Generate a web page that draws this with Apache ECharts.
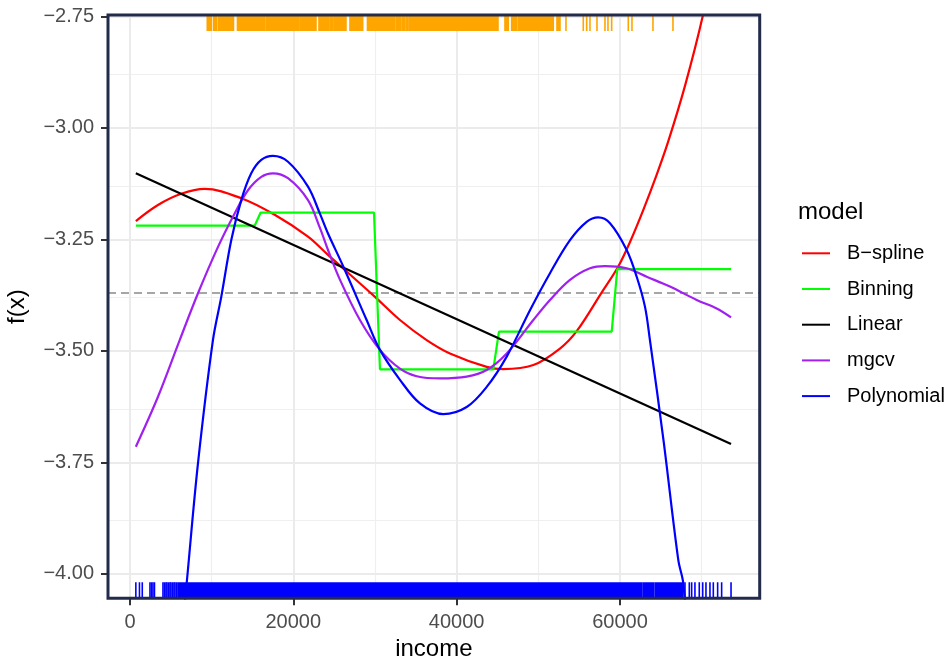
<!DOCTYPE html>
<html><head><meta charset="utf-8">
<script src="https://cdn.jsdelivr.net/npm/echarts@6/dist/echarts.min.js"></script>
<style>html,body{margin:0;padding:0;background:#fff}#c{width:951px;height:659px}</style>
</head><body><div id="c"></div>
<script>
// ---------- data ----------
const seriesNames = ['B\u2212spline', 'Binning', 'Linear', 'mgcv', 'Polynomial'];
const seriesColors = ['#ff0000', '#00ff00', '#000000', '#a020f0', '#0000ff'];

const bsplineX = [720, 3430, 6280, 9150, 13630, 17720, 21800, 24250, 30000, 33060, 36330, 39180, 43680, 45710, 49390, 52650, 54700, 57770, 59790, 61230, 62860, 64500, 65920, 67960, 70130, 72000, 73600];
const bsplineY = [-3.209, -3.173, -3.148, -3.137, -3.158, -3.195, -3.244, -3.285, -3.379, -3.431, -3.476, -3.506, -3.536, -3.541, -3.532, -3.495, -3.456, -3.369, -3.311, -3.256, -3.184, -3.105, -3.030, -2.906, -2.750, -2.58, -2.43];

const binningX = [720, 15270, 16000, 29880, 30610, 44490, 45180, 58990, 59670, 73600];
const binningY = [-3.2195, -3.2195, -3.190, -3.190, -3.5415, -3.5415, -3.457, -3.457, -3.317, -3.317];

const linearX = [720, 73600];
const linearY = [-3.102, -3.709];

const mgcvX = [720, 3430, 6090, 8330, 10780, 12820, 14450, 16080, 17510, 19350, 21800, 23270, 24250, 25720, 28160, 30610, 33060, 35110, 37960, 41230, 43680, 46130, 49390, 51430, 53880, 56330, 58160, 60820, 63270, 66120, 69390, 71840, 73600];
const mgcvY = [-3.715, -3.603, -3.476, -3.371, -3.267, -3.192, -3.140, -3.110, -3.102, -3.113, -3.162, -3.225, -3.274, -3.341, -3.431, -3.498, -3.540, -3.557, -3.562, -3.558, -3.543, -3.506, -3.431, -3.386, -3.341, -3.315, -3.310, -3.315, -3.334, -3.356, -3.386, -3.405, -3.425];

const polyX = [6120, 6980, 8330, 10160, 11180, 12400, 13630, 14850, 16080, 17510, 19350, 21800, 23270, 24250, 26120, 28980, 30610, 33060, 35510, 38360, 41230, 43680, 46130, 48980, 51430, 53880, 55920, 57340, 58780, 60820, 62050, 63060, 63670, 65340, 67140, 67750, 68570];
const polyY = [-4.18, -4.014, -3.752, -3.476, -3.379, -3.252, -3.162, -3.102, -3.072, -3.063, -3.076, -3.132, -3.193, -3.237, -3.311, -3.431, -3.498, -3.565, -3.618, -3.642, -3.626, -3.581, -3.513, -3.409, -3.326, -3.252, -3.211, -3.201, -3.214, -3.274, -3.334, -3.401, -3.476, -3.702, -3.969, -4.021, -4.20];

const refLineY = -3.369;

// rug (income values): single ticks and solid dense bands
const blueRugTicks = [720, 1163, 1506, 2449, 2633, 2816, 3000, 4041, 4225, 4408, 4531, 4714, 4898, 5020, 5204, 5388, 5510, 5694, 67960, 68490, 68780, 69180, 69710, 70130, 70530, 71020, 71430, 71960, 72450, 73600];
const blueRugBands = [[5880, 62700], [62900, 64100], [64300, 67700]];
const orangeRugTicks = [53389, 55507, 55923, 56327, 57184, 58164, 58531, 58984, 61017, 61470, 64040, 66489];
const orangeRugBands = [[9466, 9980], [10262, 10592], [10812, 12674], [13163, 16531], [16714, 18282], [18453, 20657], [20817, 22776], [23143, 24331], [24490, 24821], [24980, 26449], [26939, 28494], [29082, 31286], [31433, 32449], [32633, 33184], [33368, 33674], [33858, 34004], [34164, 36037], [36208, 38486], [38657, 41548], [41719, 43384], [43556, 45062], [45919, 46323], [46740, 47351], [47547, 51833], [52286, 52653]];

// axes
const xTicks = [0, 20000, 40000, 60000];
const xMinor = [10000, 30000, 50000, 70000];
const yTicks = [-4, -3.75, -3.5, -3.25, -3, -2.75];
const yMinor = [-3.875, -3.625, -3.375, -3.125, -2.875];
const X_MIN = -2690, X_MAX = 77110;
const Y_MIN = -4.055, Y_MAX = -2.747;

// ---------- chart ----------
const FONT = '"Liberation Sans", Arial, sans-serif';
const chart = echarts.init(document.getElementById('c'), null, {renderer: 'canvas'});
const zip = (xs, ys) => xs.map((x, i) => [x, ys[i]]);
const lineData = [zip(bsplineX, bsplineY), zip(binningX, binningY), zip(linearX, linearY), zip(mgcvX, mgcvY), zip(polyX, polyY)];
const smoothFlags = [0.35, false, false, 0.35, 0.35];

const RUG_LEN = 16, RUG_W = 1.6;
function rugSeries(ticks, bands, color, side) {
  const data = ticks.map(t => [t, t]).concat(bands);
  return {
    type: 'custom', silent: true, z: 2, clip: true, animation: false,
    data: data,
    encode: {x: [0, 1], y: 1},
    renderItem: function (params, api) {
      const cs = params.coordSys;
      const a = api.coord([api.value(0), Y_MIN])[0];
      const b = api.coord([api.value(1), Y_MIN])[0];
      const y = side === 'bottom' ? cs.y + cs.height - RUG_LEN : cs.y;
      return {type: 'rect', shape: {x: a - RUG_W / 2, y: y, width: Math.max(b - a, 0) + RUG_W, height: RUG_LEN}, style: {fill: color}};
    }
  };
}

const noLabel = {show: false};
const series = [
  {
    type: 'line', name: '_gridMinor', data: [], z: 0, silent: true, animation: false,
    markLine: {z: 0, silent: true, symbol: ['none', 'none'], label: noLabel, animation: false,
      lineStyle: {color: '#efefef', width: 1.2, type: 'solid'},
      data: xMinor.map(v => ({xAxis: v})).concat(yMinor.map(v => ({yAxis: v})))}
  },
  {
    type: 'line', name: '_gridMajor', data: [], z: 0, silent: true, animation: false,
    markLine: {z: 0, silent: true, symbol: ['none', 'none'], label: noLabel, animation: false,
      lineStyle: {color: '#ebebeb', width: 2, type: 'solid'},
      data: xTicks.map(v => ({xAxis: v})).concat(yTicks.map(v => ({yAxis: v})))}
  },
  {
    type: 'line', name: '_ref', data: [], z: 1, silent: true, animation: false,
    markLine: {z: 1, silent: true, symbol: ['none', 'none'], label: noLabel, animation: false,
      lineStyle: {color: '#a6a6a6', width: 2, type: [8, 5]},
      data: [{yAxis: refLineY}]}
  },
  rugSeries(orangeRugTicks, orangeRugBands, '#ffa500', 'top'),
  rugSeries(blueRugTicks, blueRugBands, '#0000ff', 'bottom')
];
seriesNames.forEach((n, i) => {
  series.push({
    type: 'line', name: n, data: lineData[i], symbol: 'none', showSymbol: false,
    smooth: smoothFlags[i], clip: true, z: 3 + i, animation: false,
    lineStyle: {color: seriesColors[i], width: 2.2}, itemStyle: {color: seriesColors[i]}
  });
});

chart.setOption({
  backgroundColor: '#ffffff',
  animation: false,
  textStyle: {fontFamily: FONT},
  grid: {left: 108, right: 191.3, top: 15, bottom: 60.7, show: false, containLabel: false, outerBoundsMode: 'none'},
  title: {text: 'model', left: 798, top: 200, padding: 0,
    textStyle: {fontFamily: FONT, fontSize: 24, fontWeight: 'normal', color: '#000'}},
  legend: {
    data: seriesNames.map(n => ({name: n, icon: 'path://M0,0 L28,0 L28,2 L0,2 Z'})),
    orient: 'vertical', left: 802, top: 243.3, padding: 0,
    itemWidth: 28, itemHeight: 14, itemGap: 15.7,
    textStyle: {fontFamily: FONT, fontSize: 20, color: '#000', lineHeight: 20, padding: [0, 0, 0, 12]},
    selectedMode: false
  },
  xAxis: {
    type: 'value', min: X_MIN, max: X_MAX, position: 'bottom',
    axisLine: {show: false, onZero: false},
    axisTick: {show: true, customValues: xTicks, length: 7, lineStyle: {color: '#333333', width: 2}},
    axisLabel: {customValues: xTicks, formatter: v => String(v), margin: 14, fontSize: 20, color: '#4d4d4d', fontFamily: FONT},
    splitLine: {show: false}, minorSplitLine: {show: false},
    name: 'income', nameLocation: 'middle', nameGap: 33,
    nameTextStyle: {fontSize: 24, color: '#000', fontFamily: FONT}
  },
  yAxis: {
    type: 'value', min: Y_MIN, max: Y_MAX, position: 'left',
    axisLine: {show: false, onZero: false},
    axisTick: {show: true, customValues: yTicks, length: 7, lineStyle: {color: '#333333', width: 2}},
    axisLabel: {customValues: yTicks, formatter: v => Number(v).toFixed(2).replace('-', '\u2212'), margin: 14, fontSize: 20, color: '#4d4d4d', fontFamily: FONT},
    splitLine: {show: false},
    name: 'f(x)', nameLocation: 'middle', nameGap: 79, nameRotate: 90,
    nameTextStyle: {fontSize: 24, color: '#000', fontFamily: FONT}
  },
  graphic: [{
    type: 'rect', z: 100, silent: true,
    shape: {x: 108, y: 15, width: 651.7, height: 583.3},
    style: {fill: 'none', stroke: '#232b4a', lineWidth: 3}
  }],
  series: series
});
</script>
</body></html>
